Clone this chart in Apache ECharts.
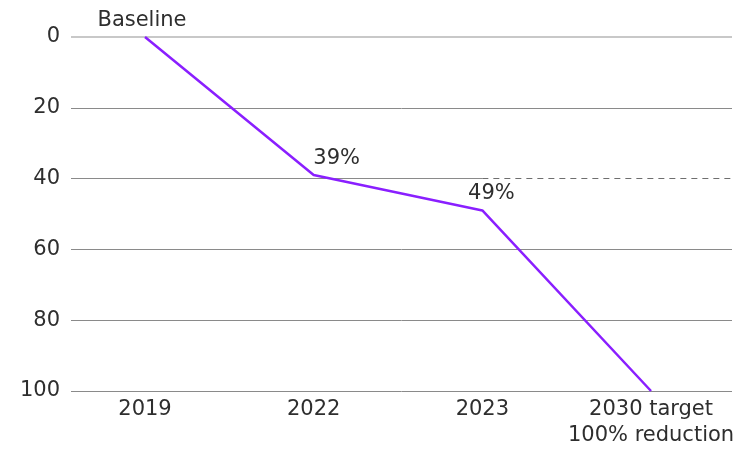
<!DOCTYPE html>
<html>
<head>
<meta charset="utf-8">
<script src="https://cdn.jsdelivr.net/npm/echarts@6/dist/echarts.min.js"></script>
<style>
html,body{margin:0;padding:0;background:#fff;}
#c{width:744px;height:449px;}
</style>
</head>
<body>
<div id="c"></div>
<script>
var categories = ['2019', '2022', '2023', '2030 target\n100% reduction'];
var reduction = [0, 39, 49, 100];
var pointLabels = ['Baseline', '39%', '49%', ''];
var yTicks = [0, 20, 40, 60, 80, 100];

var xMin = -0.4387, xMax = 3.48;
var FONT = 'DejaVu Sans';
var TXT = '#2e2e2e';

var labelOffsets = [[-3, 0], [23, 0], [9, 0], [0, 0]];
var data = reduction.map(function (v, i) {
  return {
    value: [i, v],
    label: {
      show: pointLabels[i] !== '',
      formatter: pointLabels[i],
      offset: labelOffsets[i]
    }
  };
});

var gridMarks = [];
yTicks.forEach(function (t) {
  if (t === 40) return;
  gridMarks.push({
    yAxis: t,
    lineStyle: t === 0 ? { color: '#c8c8c8', width: 2, type: 'solid' } : { color: '#8a8a8a', width: 1, type: 'solid' }
  });
});
gridMarks.push([
  { coord: [xMin, 40], lineStyle: { color: '#8a8a8a', width: 1, type: 'solid' } },
  { coord: [2, 40] }
]);
gridMarks.push([
  { coord: [2, 40], lineStyle: { color: '#6e6e6e', width: 1, type: [6, 5] } },
  { coord: [xMax, 40] }
]);

var chart = echarts.init(document.getElementById('c'));
chart.setOption({
  animation: false,
  backgroundColor: '#fff',
  grid: { left: 71, right: 12, top: 37, bottom: 58, containLabel: false, outerBoundsMode: 'none' },
  xAxis: {
    type: 'value',
    min: xMin,
    max: xMax,
    axisLine: { show: false },
    axisTick: { show: false },
    splitLine: { show: false },
    axisLabel: {
      customValues: [0, 1, 2, 3],
      formatter: function (v) { return categories[Math.round(v)]; },
      color: TXT,
      fontFamily: FONT,
      fontSize: 21,
      lineHeight: 26,
      margin: 6,
      showMinLabel: true,
      showMaxLabel: true
    }
  },
  yAxis: {
    type: 'value',
    inverse: true,
    min: 0,
    max: 100,
    interval: 20,
    axisLine: { show: false },
    axisTick: { show: false },
    splitLine: { show: false },
    axisLabel: {
      color: TXT,
      fontFamily: FONT,
      fontSize: 21,
      margin: 11
    }
  },
  series: [{
    type: 'line',
    data: data,
    symbol: 'circle',
    symbolSize: 0,
    showSymbol: true,
    z: 5,
    lineStyle: { color: '#8a1fff', width: 2.5 },
    itemStyle: { color: '#8a1fff' },
    label: {
      position: 'top',
      distance: 6,
      color: TXT,
      fontFamily: FONT,
      fontSize: 21
    },
    markLine: {
      silent: true,
      symbol: ['none', 'none'],
      label: { show: false },
      z: 1,
      data: gridMarks
    }
  }]
});
</script>
</body>
</html>
